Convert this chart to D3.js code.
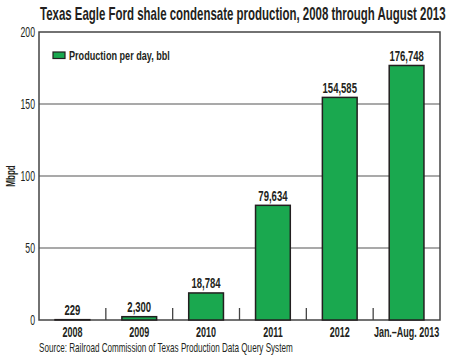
<!DOCTYPE html>
<html><head><meta charset="utf-8">
<script src="https://cdn.jsdelivr.net/npm/d3@7"></script>
<style>body{margin:0;background:#fff}svg{display:block}</style>
</head><body>
<script>
const categories = ["2008","2009","2010","2011","2012","Jan.\u2013Aug. 2013"];
const values = [229, 2300, 18784, 79634, 154585, 176748];
const yTicks = [0, 50, 100, 150, 200];
const title = "Texas Eagle Ford shale condensate production, 2008 through August 2013";
const legendLabel = "Production per day, bbl";
const source = "Source: Railroad Commission of Texas Production Data Query System";

const W = 450, H = 358;
const font = "'Liberation Sans',Arial,sans-serif";
const m = {left: 39, right: 10, top: 32, bottom: 38};
const svg = d3.select("body").append("svg").attr("width", W).attr("height", H);
const x = d3.scaleBand().domain(categories).range([m.left, W - m.right]).paddingInner(0.48).paddingOuter(0.24);
const xb = d3.scaleBand().domain(categories).range([m.left, W - m.right]);
const y = d3.scaleLinear().domain([0, 200]).range([H - m.bottom, m.top]);
const green = "#1aa84f", dark = "#231f20";

// draw a horizontally condensed text: scale factor k, or fit to width w
function ctext(parent, px, py, str, opts) {
  const t = parent.append("text").attr("x", 0).attr("y", 0)
    .attr("font-family", font).attr("font-size", opts.size)
    .attr("font-weight", opts.bold ? "bold" : "normal")
    .attr("text-anchor", opts.anchor || "start").attr("fill", dark).text(str);
  if (opts.dy) t.attr("dy", opts.dy);
  const w = t.node().getComputedTextLength();
  const k = opts.width ? opts.width / w : opts.k;
  t.attr("transform", `translate(${px},${py})${opts.rotate ? " rotate(" + opts.rotate + ")" : ""} scale(${k},1)`);
  return t;
}

ctext(svg, 40, 20, title, {size: 18, bold: true, width: 406});

// gridlines
svg.append("g").selectAll("line").data(yTicks.slice(1, -1)).join("line")
  .attr("x1", m.left).attr("x2", W - m.right)
  .attr("y1", d => y(d)).attr("y2", d => y(d))
  .attr("stroke", "#555").attr("stroke-width", 1.2);

// y tick labels
const yg = svg.append("g");
yTicks.forEach(v => ctext(yg, m.left - 4, y(v), String(v), {size: 14.5, anchor: "end", dy: "0.35em", k: 0.6}));

// frame
svg.append("rect").attr("x", m.left).attr("y", m.top)
  .attr("width", W - m.right - m.left).attr("height", H - m.bottom - m.top)
  .attr("fill", "none").attr("stroke", "#444").attr("stroke-width", 1.5);

// category separator ticks
svg.append("g").selectAll("line").data(categories.slice(1)).join("line")
  .attr("x1", d => xb(d)).attr("x2", d => xb(d))
  .attr("y1", y(0)).attr("y2", y(0) - 12)
  .attr("stroke", "#444").attr("stroke-width", 1.3);

// bars
svg.append("g").selectAll("rect").data(values).join("rect")
  .attr("x", (d, i) => x(categories[i])).attr("width", x.bandwidth())
  .attr("y", d => y(d / 1000)).attr("height", d => y(0) - y(d / 1000))
  .attr("fill", green).attr("stroke", dark).attr("stroke-width", 1.5);

// value labels
const vg = svg.append("g");
values.forEach((d, i) => ctext(vg, x(categories[i]) + x.bandwidth() / 2, y(d / 1000) - 4.5,
  d3.format(",")(d), {size: 14, bold: true, anchor: "middle", k: 0.68}));

// category labels
const cg = svg.append("g");
categories.forEach(c => ctext(cg, xb(c) + xb.bandwidth() / 2, y(0) + 17, c,
  {size: 15.5, bold: true, anchor: "middle", k: 0.58}));

// y label
ctext(svg, 15, (y(0) + y(200)) / 2, "Mbpd", {size: 13, bold: true, anchor: "middle", rotate: -90, k: 0.62});

// legend
svg.append("rect").attr("x", 53).attr("y", 52).attr("width", 12).attr("height", 6.5)
  .attr("fill", green).attr("stroke", dark).attr("stroke-width", 1.2);
ctext(svg, 69, 59.5, legendLabel, {size: 12.5, bold: true, width: 101});

// source
ctext(svg, 39, 352, source, {size: 12, width: 254});
</script>
</body></html>
